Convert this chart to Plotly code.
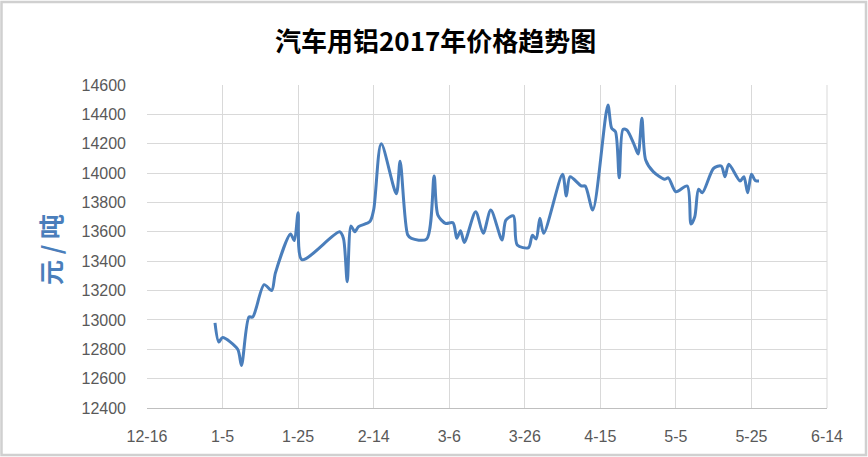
import plotly.graph_objects as go

# ---- data ----
dates = [
    "2017-01-03", "2017-01-04", "2017-01-05", "2017-01-09", "2017-01-10", "2017-01-12",
    "2017-01-13", "2017-01-16", "2017-01-18", "2017-01-19", "2017-01-23", "2017-01-24",
    "2017-01-25", "2017-01-26", "2017-02-05", "2017-02-06", "2017-02-07", "2017-02-08",
    "2017-02-09", "2017-02-10", "2017-02-13", "2017-02-14", "2017-02-16", "2017-02-20",
    "2017-02-21", "2017-02-23", "2017-02-24", "2017-02-28", "2017-03-02", "2017-03-03",
    "2017-03-05", "2017-03-07", "2017-03-08", "2017-03-09", "2017-03-10", "2017-03-13",
    "2017-03-15", "2017-03-17", "2017-03-20", "2017-03-21", "2017-03-23", "2017-03-24",
    "2017-03-27", "2017-03-28", "2017-03-29", "2017-03-30", "2017-03-31", "2017-04-05",
    "2017-04-06", "2017-04-07", "2017-04-10", "2017-04-11", "2017-04-13", "2017-04-17",
    "2017-04-18", "2017-04-19", "2017-04-20", "2017-04-21", "2017-04-22", "2017-04-24",
    "2017-04-25", "2017-04-26", "2017-04-27", "2017-04-29", "2017-05-02", "2017-05-03",
    "2017-05-05", "2017-05-08", "2017-05-09", "2017-05-10", "2017-05-11", "2017-05-12",
    "2017-05-15", "2017-05-17", "2017-05-18", "2017-05-19", "2017-05-22", "2017-05-23",
    "2017-05-24", "2017-05-25", "2017-05-26", "2017-05-27",
]
prices = [
    12980, 12850, 12880, 12800, 12690, 13020,
    13020, 13240, 13200, 13320, 13585, 13540,
    13730, 13410, 13600, 13555, 13260, 13640,
    13600, 13635, 13670, 13750, 14200, 13860,
    14080, 13580, 13555, 13550, 13980, 13714,
    13658, 13662, 13556, 13608, 13528, 13737,
    13590, 13749, 13544, 13680, 13708, 13510,
    13492, 13576, 13551, 13692, 13590, 13992,
    13844, 13975, 13912, 13912, 13749, 14464,
    14305, 14282, 13968, 14298, 14293, 14191,
    14130, 14373, 14089, 14010, 13958, 13968,
    13873, 13912, 13653, 13703, 13890, 13866,
    14033, 14048, 13975, 14060, 13946, 13975,
    13866, 13992, 13950, 13946,
]
title_text = "汽车用铝2017年价格趋势图"
y_title = "元 / 吨"
x_range = ["2016-12-16", "2017-06-14"]
y_range = [12400, 14600]

# ---- figure ----
W, H = 868, 457
L, R, T, B = 147, 41, 85, 49
pw, ph = W - L - R, H - T - B

def px_x(x):
    return (x - L) / pw

def px_y(y):
    return (H - B - y) / ph

fig = go.Figure()
fig.add_trace(go.Scatter(
    x=dates, y=prices, mode="lines",
    line=dict(color="#4A7EBB", width=3, shape="spline", smoothing=0.8),
    hoverinfo="x+y", showlegend=False,
))

tick_font = dict(family="Liberation Sans, Arial, sans-serif", size=16, color="#595959")

fig.update_layout(
    width=W, height=H,
    margin=dict(l=L, r=R, t=T, b=B),
    paper_bgcolor="white", plot_bgcolor="white",
    xaxis=dict(
        type="date", range=x_range, tick0=x_range[0], dtick=20 * 86400000,
        tickformat="%-m-%-d", showgrid=True, gridcolor="#D9D9D9", gridwidth=1,
        showline=True, linecolor="#BFBFBF", linewidth=1, zeroline=False,
        ticks="", tickfont=tick_font, ticklabelstandoff=14, mirror=False,
    ),
    yaxis=dict(
        range=y_range, dtick=200, showgrid=True, gridcolor="#D9D9D9", gridwidth=1,
        showline=False, zeroline=False, ticks="", tickfont=tick_font,
        ticklabelstandoff=20, tickformat="d",
    ),
    shapes=[
        dict(type="rect", xref="paper", yref="paper",
             x0=px_x(1.5), x1=px_x(W - 2), y0=px_y(H - 2), y1=px_y(2),
             line=dict(color="#D0D0D0", width=2.5), fillcolor="rgba(0,0,0,0)", layer="below"),
        dict(type="line", xref="paper", yref="paper", x0=1, x1=1, y0=0, y1=1,
             line=dict(color="#D9D9D9", width=1)),
    ],
    annotations=[
        dict(text=title_text, xref="paper", yref="paper", x=px_x(435), y=px_y(40),
             showarrow=False, xanchor="center", yanchor="middle",
             font=dict(family="Noto Sans CJK SC, sans-serif", size=26, color="#000000", weight="bold")),
        dict(text=y_title, xref="paper", yref="paper", x=px_x(50), y=px_y(250),
             showarrow=False, xanchor="center", yanchor="middle", textangle=-90,
             font=dict(family="Noto Sans CJK SC, sans-serif", size=25, color="#4A7EBB", weight="bold")),
    ],
)

fig.write_html(
    "out.html",
    config={"displayModeBar": False},
    post_script="document.body.style.margin='0';document.body.style.overflow='hidden';",
)
